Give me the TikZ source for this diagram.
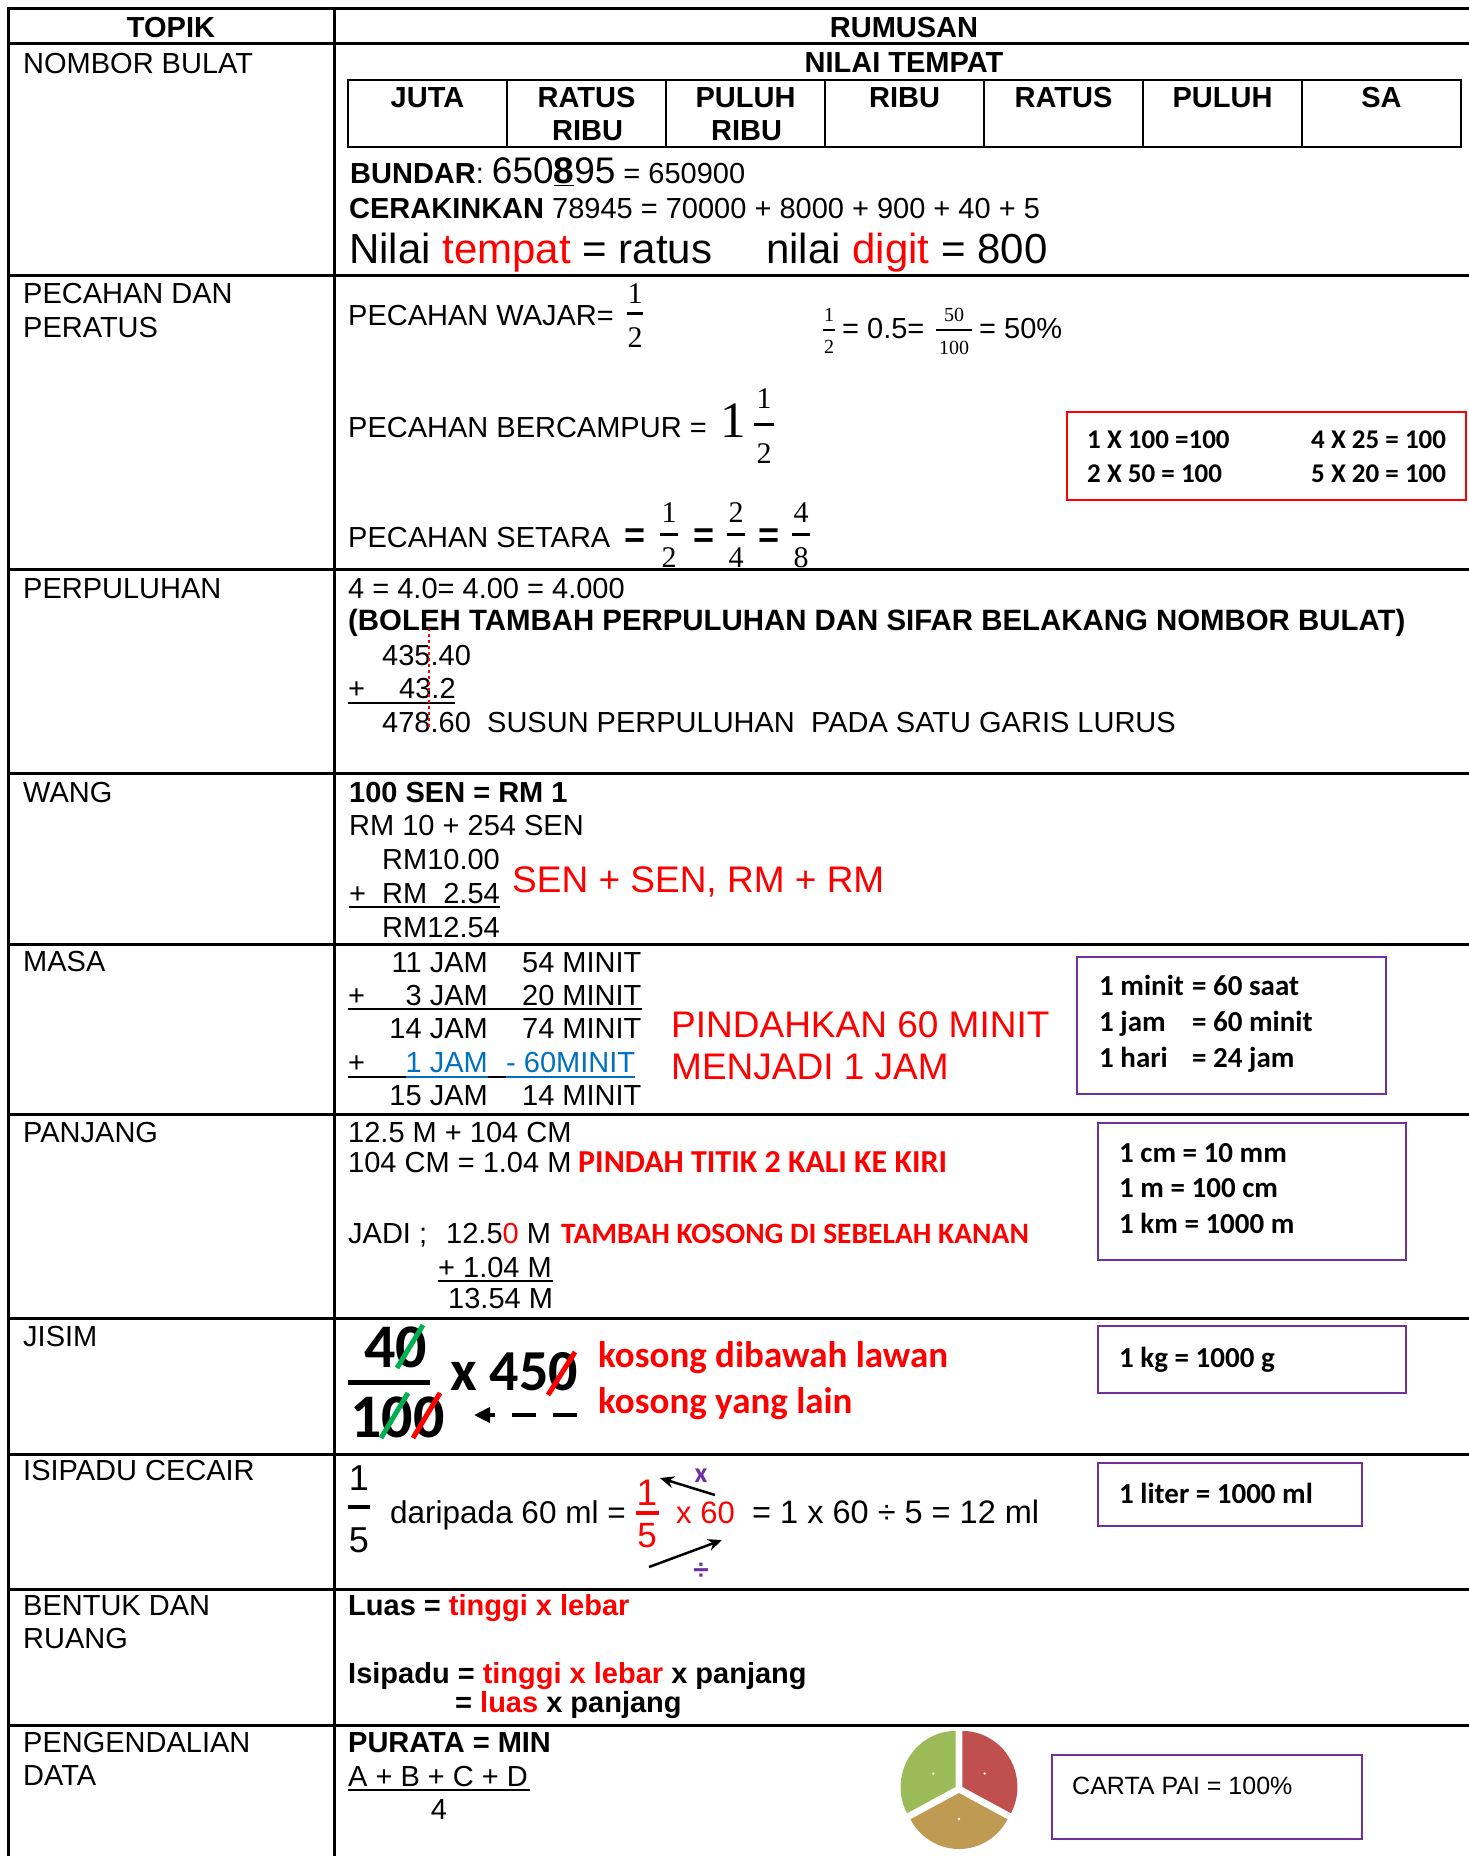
\documentclass[tikz,border=0pt]{standalone}
\usepackage{fontspec}
\setmainfont{Liberation Sans}
\newfontfamily\calib{Carlito}
\newfontfamily\serifd{Liberation Serif}
\usetikzlibrary{arrows.meta}

\definecolor{boxpurple}{HTML}{7030A0}
\definecolor{jamblue}{HTML}{0070C0}
\definecolor{slashgreen}{HTML}{00B050}
\definecolor{piegreen}{HTML}{9BBB59}
\definecolor{piered}{HTML}{C0504D}
\definecolor{piegold}{HTML}{BE9A52}

\newcommand{\fsz}[1]{\fontsize{#1}{#1}\selectfont}

\begin{document}
\begin{tikzpicture}[
        x=1pt, y=-1pt,
        every node/.style={inner sep=0pt},
        txt/.style={anchor=base west, font=\fsz{29}},
        bold/.style={anchor=base west, font=\fsz{29}\bfseries},
        hdr/.style={anchor=base, font=\fsz{29}\bfseries},
        boxt/.style={anchor=base west, font=\calib\fsz{29}\bfseries},
        redt/.style={anchor=base west, font=\calib\fsz{30}\bfseries, text=red},
        sdig/.style={anchor=base, font=\serifd\fsz{30}},
        smalldig/.style={anchor=base, font=\serifd\fsz{20}},
        fbar/.style={line width=3pt},
        tablegrid/.style={line width=3pt},
        uline/.style={line width=2.5pt},
        pbox/.style={draw=boxpurple, line width=2.5pt},
        arw/.style={-{Stealth[length=14pt, width=12pt]}, line width=2.5pt},
        jarr/.style={line width=4.5pt, dash pattern=on 24pt off 17pt, -{Triangle[length=16pt, width=15pt]}},
        slash/.style={line width=5pt}
    ]
        \useasboundingbox (0,0) rectangle (1468,1856);

        \foreach \y in {8,43,275,569,773,944,1114,1318,1454,1589,1725}
            \draw[tablegrid] (7,\y) -- (1470,\y);
        \draw[tablegrid] (8.5,6.5) -- (8.5,1856);
        \draw[tablegrid] (334,6.5) -- (334,1856);

        \node[hdr] (hTopik) at (171,37) {TOPIK};
        \node[hdr] (hRumusan) at (904,37) {RUMUSAN};

        \node[txt] (lNombor) at (23,73) {NOMBOR BULAT};
        \node[txt] (lPecahan1) at (23,303) {PECAHAN DAN};
        \node[txt] (lPecahan2) at (23,337) {PERATUS};
        \node[txt] (lPerpuluhan) at (23,598) {PERPULUHAN};
        \node[txt] (lWang) at (23,802) {WANG};
        \node[txt] (lMasa) at (23,971) {MASA};
        \node[txt] (lPanjang) at (23,1142) {PANJANG};
        \node[txt] (lJisim) at (23,1346) {JISIM};
        \node[txt] (lIsipadu) at (23,1480) {ISIPADU CECAIR};
        \node[txt] (lBentuk1) at (23,1615) {BENTUK DAN};
        \node[txt] (lBentuk2) at (23,1648) {RUANG};
        \node[txt] (lData1) at (23,1752) {PENGENDALIAN};
        \node[txt] (lData2) at (23,1785) {DATA};

        % nombor bulat
        \node[hdr] (nilaiTempat) at (904,72) {NILAI TEMPAT};
        \draw[line width=2.5pt] (348,80) rectangle (1461,147);
        \foreach \i in {1,...,6}
            \draw[line width=2.5pt] ({348+159*\i},80) -- ({348+159*\i},147);
        \foreach \t [count=\i] in {JUTA,RATUS,PULUH,RIBU,RATUS,PULUH,SA}
            \node[hdr] (pv\i) at ({348+159*\i-79.5},107) {\t};
        \node[hdr] (pv2b) at (587.5,140) {RIBU};
        \node[hdr] (pv3b) at (746.5,140) {RIBU};

        \node[txt] (bundar) at (350,183) {\textbf{BUNDAR}: {\fsz{37}650\underline{\textbf{8}}95} = 650900};
        \node[txt] (cerakin) at (349,218) {\textbf{CERAKINKAN} 78945 = 70000 + 8000 + 900 + 40 + 5};
        \node[txt, font=\fsz{42}] (nilaiT) at (349,263) {Nilai \textcolor{red}{tempat} = ratus};
        \node[txt, font=\fsz{42}] (nilaiD) at (766,263) {nilai \textcolor{red}{digit} = 800};

        % pecahan
        \node[txt] (wajar) at (348,325) {PECAHAN WAJAR=};
        \node[sdig] (wajarN) at (635,303) {1};
        \draw[fbar] (627,313) -- (643,313);
        \node[sdig] (wajarD) at (635,347) {2};

        \node[smalldig] (halfN) at (829,321) {1};
        \draw[fbar, line width=2pt] (823,330) -- (835,330);
        \node[smalldig] (halfD) at (829,353) {2};
        \node[txt] (halfEq) at (842,338) {= 0.5=};
        \node[smalldig] (fiftyN) at (954,321) {50};
        \draw[fbar, line width=2pt] (936,330) -- (972,330);
        \node[smalldig] (fiftyD) at (954,354) {100};
        \node[txt] (pctEq) at (979,338) {= 50\%};

        \node[txt] (campur) at (348,437) {PECAHAN BERCAMPUR =};
        \node[anchor=base, font=\serifd\fsz{51}] (campur1) at (733,437) {1};
        \node[sdig] (campurN) at (764,408) {1};
        \draw[fbar] (754,424.5) -- (774,424.5);
        \node[sdig] (campurD) at (764,463) {2};

        \node[txt] (setara) at (348,547) {PECAHAN SETARA};
        \foreach \n/\d/\x in {1/2/669, 2/4/736, 4/8/801} {
            \node[sdig] (setaraN\n) at (\x,522) {\n};
            \draw[fbar] ({\x-9},534) -- ({\x+9},534);
            \node[sdig] (setaraD\n) at (\x,567) {\d};
        }
        \foreach \x [count=\i] in {635,704,769}
            \node[anchor=base, font=\fsz{36}\bfseries] (setaraEq\i) at (\x,547) {=};

        \draw[red, line width=2.5pt] (1067,412) rectangle (1466,500);
        \node[boxt, font=\calib\fsz{27}\bfseries] (kali1) at (1087,448) {1 X 100 =100};
        \node[boxt, font=\calib\fsz{27}\bfseries] (kali2) at (1087,482) {2 X 50 = 100};
        \node[boxt, font=\calib\fsz{27}\bfseries] (kali3) at (1311,448) {4 X 25 = 100};
        \node[boxt, font=\calib\fsz{27}\bfseries] (kali4) at (1311,482) {5 X 20 = 100};

        % perpuluhan
        \node[txt] (dec1) at (348,598) {4 = 4.0= 4.00 = 4.000};
        \node[bold, font=\fsz{29.4}\bfseries] (decNote) at (348,630) {(BOLEH TAMBAH PERPULUHAN DAN SIFAR BELAKANG NOMBOR BULAT)};
        \node[txt] (decA) at (382,665) {435.40};
        \node[txt] (decPlus) at (348,698) {+};
        \node[txt] (decB) at (399,698) {43.2};
        \draw[uline] (348,703) -- (455,703);
        \node[txt] (decSum) at (382,732) {478.60};
        \node[txt] (decRule) at (487,732) {SUSUN PERPULUHAN\ \ PADA SATU GARIS LURUS};
        \draw[red, line width=2.5pt, dash pattern=on 3pt off 3pt] (429,628) -- (429,728);

        % wang
        \node[bold] (sen1) at (349,802) {100 SEN = RM 1};
        \node[txt] (sen2) at (349,835) {RM 10 + 254 SEN};
        \node[txt] (rmA) at (382,869) {RM10.00};
        \node[txt] (rmPlus) at (349,903) {+};
        \node[txt] (rmB) at (382,903) {RM};
        \node[anchor=base east, font=\fsz{29}] (rmB2) at (500,903) {2.54};
        \draw[uline] (349,907) -- (500,907);
        \node[txt] (rmSum) at (382,937) {RM12.54};
        \node[txt, font=\fsz{37}, text=red] (senRule) at (512,892) {SEN + SEN, RM + RM};

        % masa
        \foreach \h/\m/\y [count=\i] in {11 JAM/54 MINIT/972, 3 JAM/20 MINIT/1005, 14 JAM/74 MINIT/1038, 15 JAM/14 MINIT/1105} {
            \node[anchor=base east, font=\fsz{29}] (jam\i) at (488,\y) {\h};
            \node[txt] (minit\i) at (522,\y) {\m};
        }
        \node[anchor=base east, font=\fsz{29}, text=jamblue] (jamBlue) at (488,1072) {1 JAM};
        \node[txt, text=jamblue] (minitBlue) at (506,1072) {- 60MINIT};
        \node[txt] (masaPlus1) at (348,1005) {+};
        \node[txt] (masaPlus2) at (348,1072) {+};
        \draw[uline] (348,1009) -- (642,1009);
        \draw[uline] (348,1077) -- (406,1077);
        \draw[uline, jamblue] (406,1077) -- (488,1077);
        \draw[uline] (488,1077) -- (506,1077);
        \draw[uline, jamblue] (506,1077) -- (635,1077);
        \node[txt, font=\fsz{37}, text=red] (pindah1) at (671,1037) {PINDAHKAN 60 MINIT};
        \node[txt, font=\fsz{37}, text=red] (pindah2) at (671,1079) {MENJADI 1 JAM};

        \draw[pbox] (1077,957) rectangle (1386,1094);
        \foreach \l/\r/\y [count=\i] in {1 minit/= 60 saat/995, 1 jam/= 60 minit/1031, 1 hari/= 24 jam/1067} {
            \node[boxt] (masaL\i) at (1099,\y) {\l};
            \node[boxt] (masaR\i) at (1192,\y) {\r};
        }

        % panjang
        \node[txt] (pj1) at (348,1142) {12.5 M + 104 CM};
        \node[txt] (pj2) at (348,1172) {104 CM = 1.04 M};
        \node[redt, font=\calib\fsz{32}\bfseries] (pjNote1) at (578,1172) {PINDAH TITIK 2 KALI KE KIRI};
        \node[txt] (jadi) at (348,1243) {JADI ;};
        \node[txt] (jadiNum) at (446,1243) {12.5\textcolor{red}{0} M};
        \node[redt, font=\calib\fsz{29.5}\bfseries] (pjNote2) at (561,1243) {TAMBAH KOSONG DI SEBELAH KANAN};
        \node[txt] (pjAdd) at (438,1277) {+ 1.04 M};
        \draw[uline] (438,1281) -- (553,1281);
        \node[txt] (pjSum) at (448,1308) {13.54 M};

        \draw[pbox] (1098,1123) rectangle (1406,1260);
        \foreach \t/\y [count=\i] in {1 cm = 10 mm/1162, 1 m = 100 cm/1197, 1 km = 1000 m/1233}
            \node[boxt] (pjBox\i) at (1119,\y) {\t};

        % jisim
        \node[anchor=base west, font=\calib\fsz{62}\bfseries] (jNum) at (364,1367) {40};
        \draw[line width=5pt] (348,1382) -- (430,1382);
        \node[anchor=base west, font=\calib\fsz{62}\bfseries] (jDen) at (350,1437) {100};
        \node[anchor=base west, font=\calib\fsz{58}\bfseries] (jMul) at (450,1390) {x 450};
        \draw[slash, slashgreen] (397,1368) -- (423,1325);
        \draw[slash, red] (548,1395) -- (575,1352);
        \draw[slash, slashgreen] (381,1438) -- (408,1393);
        \draw[slash, red] (413,1438) -- (440,1393);
        \coordinate (jArrowS) at (577,1415);
        \coordinate (jArrowE) at (474,1415);
        \draw[jarr] (jArrowS) -- (jArrowE);
        \node[redt, font=\calib\fsz{37}\bfseries] (jNote1) at (598,1367) {kosong dibawah lawan};
        \node[redt, font=\calib\fsz{37}\bfseries] (jNote2) at (598,1413) {kosong yang lain};

        \draw[pbox] (1098,1326) rectangle (1406,1393);
        \node[boxt] (jBox) at (1119,1367) {1 kg = 1000 g};

        % isipadu cecair
        \node[anchor=base, font=\fsz{36}] (vNum) at (359,1490) {1};
        \draw[line width=4pt] (348,1507) -- (370,1507);
        \node[anchor=base, font=\fsz{36}] (vDen) at (359,1552) {5};
        \node[txt, font=\fsz{31.5}] (vText) at (390,1523) {daripada 60 ml =};
        \node[anchor=base, font=\fsz{37}, text=red] (vrNum) at (647,1505) {1};
        \draw[red, line width=3.5pt] (636,1513) -- (659,1513);
        \node[anchor=base, font=\fsz{35}, text=red] (vrDen) at (647,1547) {5};
        \node[txt, font=\fsz{31}, text=red] (vrMul) at (676,1523) {x 60};
        \node[txt, font=\fsz{32.5}] (vCalc) at (752,1523) {= 1 x 60 ÷ 5 = 12 ml};
        \node[font=\calib\fsz{28}\bfseries, text=boxpurple] (vX) at (701,1476) {x};
        \node[font=\fsz{28}\bfseries, text=boxpurple] (vDiv) at (701,1571) {÷};
        \coordinate (vArrowXs) at (715,1495);
        \coordinate (vArrowXe) at (660,1478);
        \coordinate (vArrowDs) at (649,1567);
        \coordinate (vArrowDe) at (722,1540);
        \draw[arw] (vArrowXs) -- (vArrowXe);
        \draw[arw] (vArrowDs) -- (vArrowDe);

        \draw[pbox] (1098,1463) rectangle (1362,1526);
        \node[boxt] (vBox) at (1119,1503) {1 liter = 1000 ml};

        % bentuk dan ruang
        \node[bold] (luas) at (348,1615) {Luas = \textcolor{red}{tinggi x lebar}};
        \node[bold] (isipadu1) at (348,1683) {Isipadu = \textcolor{red}{tinggi x lebar} x panjang};
        \node[bold] (isipadu2) at (455,1712) {= \textcolor{red}{luas} x panjang};

        % pengendalian data
        \node[bold] (purata) at (348,1752) {PURATA = MIN};
        \node[txt] (purataNum) at (348,1786) {A + B + C + D};
        \draw[uline] (348,1790) -- (530,1790);
        \node[anchor=base, font=\fsz{29}] (purataDen) at (439,1819) {4};

        \begin{scope}[shift={(959,1789)}]
            \fill[piered, shift={(31:4pt)}] (0,0) -- (-28:55pt and 56pt)
                arc[start angle=-28, end angle=90, x radius=55pt, y radius=56pt] -- cycle;
            \fill[piegreen, shift={(149:4pt)}] (0,0) -- (90:55pt and 56pt)
                arc[start angle=90, end angle=208, x radius=55pt, y radius=56pt] -- cycle;
            \fill[piegold, shift={(270:4pt)}] (0,0) -- (208:55pt and 56pt)
                arc[start angle=208, end angle=332, x radius=55pt, y radius=56pt] -- cycle;
            \foreach \a in {31,149,270}
                \fill[white] (\a:30pt) circle[radius=1.3pt];
        \end{scope}

        \draw[pbox] (1052,1755) rectangle (1362,1839);
        \node[txt, font=\fsz{25}] (pieBox) at (1072,1794) {CARTA PAI = 100\%};
    \end{tikzpicture}
\end{document}
